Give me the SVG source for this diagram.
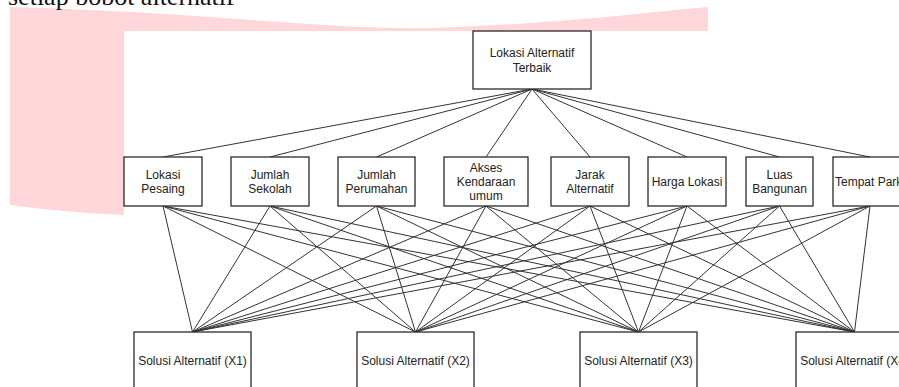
<svg xmlns="http://www.w3.org/2000/svg" width="899" height="387" viewBox="0 0 899 387">
<style>
.box{fill:#ffffff;stroke:#2a2a2a;stroke-width:1.3}
.lbl{font-family:"Liberation Sans",Arial,sans-serif;font-size:12px;fill:#222;text-anchor:middle}
.edge{stroke:#333;stroke-width:1;fill:none}
</style>
<rect x="0" y="0" width="899" height="387" fill="#ffffff"/>
<path d="M10,7 C200,12 330,30 430,28 C560,24 650,12 708,7 L708,40 L124,40 L124,215 Q60,212 10,205 Z" fill="#ffd6d9"/>
<text x="8" y="5" font-family="'Liberation Serif','Times New Roman',serif" font-size="26" fill="#111">setiap bobot alternatif</text>
<rect x="124" y="31" width="775" height="356" fill="#ffffff"/>
<g id="connectors">
<path class="edge" d="M532,89 L163,157 M532,89 L270,157 M532,89 L376.5,157 M532,89 L486,157 M532,89 L590,157 M532,89 L687,157 M532,89 L779.5,157 M532,89 L870,157"/>
<path class="edge" d="M163,206 L192.5,332 M163,206 L415.5,332 M163,206 L638.5,332 M163,206 L854.5,332"/>
<path class="edge" d="M270,206 L192.5,332 M270,206 L415.5,332 M270,206 L638.5,332 M270,206 L854.5,332"/>
<path class="edge" d="M376.5,206 L192.5,332 M376.5,206 L415.5,332 M376.5,206 L638.5,332 M376.5,206 L854.5,332"/>
<path class="edge" d="M486,206 L192.5,332 M486,206 L415.5,332 M486,206 L638.5,332 M486,206 L854.5,332"/>
<path class="edge" d="M590,206 L192.5,332 M590,206 L415.5,332 M590,206 L638.5,332 M590,206 L854.5,332"/>
<path class="edge" d="M687,206 L192.5,332 M687,206 L415.5,332 M687,206 L638.5,332 M687,206 L854.5,332"/>
<path class="edge" d="M779.5,206 L192.5,332 M779.5,206 L415.5,332 M779.5,206 L638.5,332 M779.5,206 L854.5,332"/>
<path class="edge" d="M870,206 L192.5,332 M870,206 L415.5,332 M870,206 L638.5,332 M870,206 L854.5,332"/>
</g>
<g id="goal">
<rect class="box" x="473" y="31" width="118" height="58"/>
<text class="lbl" x="532" y="57">Lokasi Alternatif</text>
<text class="lbl" x="532" y="72">Terbaik</text>
</g>
<g id="c1">
<rect class="box" x="124" y="157" width="78" height="49"/>
<text class="lbl" x="163" y="178.5">Lokasi</text>
<text class="lbl" x="163" y="192.5">Pesaing</text>
</g>
<g id="c2">
<rect class="box" x="231" y="157" width="78" height="49"/>
<text class="lbl" x="270" y="178.5">Jumlah</text>
<text class="lbl" x="270" y="192.5">Sekolah</text>
</g>
<g id="c3">
<rect class="box" x="338" y="157" width="77" height="49"/>
<text class="lbl" x="376.5" y="178.5">Jumlah</text>
<text class="lbl" x="376.5" y="192.5">Perumahan</text>
</g>
<g id="c4">
<rect class="box" x="444" y="157" width="84" height="49"/>
<text class="lbl" x="486" y="171.5">Akses</text>
<text class="lbl" x="486" y="185.5">Kendaraan</text>
<text class="lbl" x="486" y="199.5">umum</text>
</g>
<g id="c5">
<rect class="box" x="551" y="157" width="78" height="49"/>
<text class="lbl" x="590" y="178.5">Jarak</text>
<text class="lbl" x="590" y="192.5">Alternatif</text>
</g>
<g id="c6">
<rect class="box" x="648" y="157" width="78" height="49"/>
<text class="lbl" x="687" y="185.5">Harga Lokasi</text>
</g>
<g id="c7">
<rect class="box" x="746" y="157" width="67" height="49"/>
<text class="lbl" x="779.5" y="178.5">Luas</text>
<text class="lbl" x="779.5" y="192.5">Bangunan</text>
</g>
<g id="c8">
<rect class="box" x="833" y="157" width="76" height="49"/>
<text class="lbl" x="872" y="185.5">Tempat Parkir</text>
</g>
<g id="x1">
<rect class="box" x="134" y="332" width="117" height="58"/>
<text class="lbl" x="192.5" y="365">Solusi Alternatif (X1)</text>
</g>
<g id="x2">
<rect class="box" x="357" y="332" width="117" height="58"/>
<text class="lbl" x="415.5" y="365">Solusi Alternatif (X2)</text>
</g>
<g id="x3">
<rect class="box" x="580" y="332" width="117" height="58"/>
<text class="lbl" x="638.5" y="365">Solusi Alternatif (X3)</text>
</g>
<g id="x4">
<rect class="box" x="796" y="332" width="117" height="58"/>
<text class="lbl" x="854.5" y="365">Solusi Alternatif (X4)</text>
</g>
</svg>
